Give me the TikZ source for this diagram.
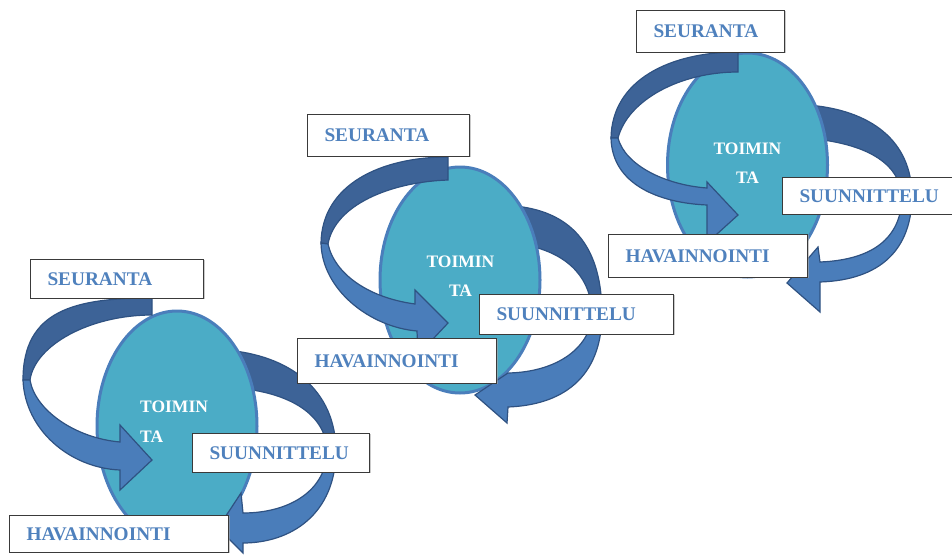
\documentclass[tikz,border=0pt]{standalone}
\usepackage{fontspec}
\setmainfont{Liberation Serif}
\usetikzlibrary{shapes.geometric,shadows}

\definecolor{bandback}{HTML}{3D6397}
\definecolor{bandfront}{HTML}{4A7DBA}
\definecolor{bandedge}{HTML}{2F5282}
\definecolor{ovalfill}{HTML}{4BACC6}
\definecolor{ovaledge}{HTML}{4A7EBB}
\definecolor{labeltext}{HTML}{4F81BD}
\definecolor{boxedge}{HTML}{3A3A3A}

\tikzset{
  back/.style={fill=bandback, draw=bandedge, line width=1.2pt},
  front/.style={fill=bandfront, draw=bandedge, line width=1.2pt},
  oval/.style={ellipse, fill=ovalfill, draw=ovaledge, line width=3pt, inner sep=0pt},
  tag/.style={draw=boxedge, fill=white, line width=1pt,
    drop shadow={shadow xshift=1pt, shadow yshift=-1pt, fill=black!35, opacity=0.6},
    font=\fontsize{19.3}{22}\selectfont\bfseries, text=labeltext, align=left,
    inner xsep=17pt, inner ysep=0pt, text height=13pt, text depth=0pt, anchor=west},
  word/.style={text=white, font=\fontsize{17.5}{20}\selectfont\bfseries, inner sep=0pt}
}

\begin{document}
\begin{tikzpicture}[x=1pt, y=-1pt]
\useasboundingbox (0,0) rectangle (952,554);
\clip (0,0) rectangle (952,554);

% ---------- cycle 1 (bottom left) ----------
% back half of the right-hand loop, behind the oval
\path[back] (225,350) .. controls (290,355) and (336,390) .. (336,452)
  -- (327,452) .. controls (327,415) and (290,392) .. (235,388) -- cycle;
\node[oval, minimum width=160pt, minimum height=230pt] (e1) at (177,426) {};
% left-hand loop
\path[back] (152,298) .. controls (75,298) and (23,310) .. (23,380)
  -- (30,380) .. controls (35,345) and (90,315) .. (152,315) -- cycle;
\path[front] (23,380) .. controls (25,430) and (70,468) .. (120,470)
  -- (120,490) -- (152,460) -- (120,425) -- (120,442)
  .. controls (75,438) and (35,410) .. (30,380) -- cycle;
% front half of the right-hand loop
\path[front] (336,450) .. controls (336,515) and (290,543) .. (243,543)
  -- (243,553) -- (218,528) -- (241,493) -- (243,513)
  .. controls (290,513) and (327,490) .. (327,450) -- cycle;
\node[word, anchor=base west] (w1a) at (140,412) {TOIMIN};
\node[word, anchor=base west] (w1b) at (140,442) {TA};
\node[tag, text width=139pt, minimum height=39pt] (s1) at (30,278.5) {SEURANTA};
\node[tag, text width=143pt, minimum height=39pt] (u1) at (192,452.5) {SUUNNITTELU};
\node[tag, text width=185pt, minimum height=37pt] (h1) at (9,533.5) {HAVAINNOINTI};

% ---------- cycle 2 (middle) ----------
\path[back] (515,206) .. controls (575,212) and (602,250) .. (602,315)
  -- (592,315) .. controls (592,280) and (570,255) .. (530,246) -- cycle;
\node[oval, minimum width=160pt, minimum height=226pt] (e2) at (460,280) {};
\path[back] (448,157) .. controls (380,157) and (322,185) .. (321,243)
  -- (328,244) .. controls (335,205) and (390,182) .. (448,180) -- cycle;
\path[front] (321,243) .. controls (322,290) and (370,327) .. (417,331)
  -- (418,355) -- (448,323) -- (415,290) -- (415,304)
  .. controls (370,298) and (335,275) .. (328,244) -- cycle;
\path[front] (602,313) .. controls (602,380) and (560,405) .. (508,407)
  -- (507,423) -- (475,395) -- (505,375) -- (508,373)
  .. controls (560,372) and (592,345) .. (592,313) -- cycle;
\node[word, anchor=base] (w2a) at (460.5,267) {TOIMIN};
\node[word, anchor=base] (w2b) at (460.5,296) {TA};
\node[tag, text width=128pt, minimum height=42pt] (s2) at (307,135) {SEURANTA};
\node[tag, text width=160pt, minimum height=40pt] (u2) at (479,314) {SUUNNITTELU};
\node[tag, text width=165pt, minimum height=45pt] (h2) at (297,360.5) {HAVAINNOINTI};

% ---------- cycle 3 (top right) ----------
\path[back] (808,105) .. controls (870,110) and (912,140) .. (912,197)
  -- (902,197) .. controls (900,165) and (870,145) .. (815,139) -- cycle;
\node[oval, minimum width=160pt, minimum height=224pt] (e3) at (747.5,165) {};
\path[back] (738,52) .. controls (670,52) and (612,80) .. (611,138)
  -- (618,138) .. controls (628,100) and (680,72) .. (738,72) -- cycle;
\path[front] (611,138) .. controls (612,185) and (660,203) .. (707,205)
  -- (707,243) -- (738,215) -- (707,182) -- (707,188)
  .. controls (665,185) and (625,165) .. (618,138) -- cycle;
\path[front] (912,195) .. controls (912,250) and (880,280) .. (820,282)
  -- (820,312) -- (787,283) -- (818,247) -- (820,262)
  .. controls (870,260) and (902,240) .. (902,195) -- cycle;
\node[word, anchor=base] (w3a) at (747.5,154) {TOIMIN};
\node[word, anchor=base] (w3b) at (747.5,183) {TA};
\node[tag, text width=114pt, minimum height=42pt] (s3) at (636,31) {SEURANTA};
\node[tag, text width=144pt, minimum height=37pt] (u3) at (782,195.5) {SUUNNITTELU};
\node[tag, text width=165pt, minimum height=43pt] (h3) at (608,255.5) {HAVAINNOINTI};
\end{tikzpicture}
\end{document}
